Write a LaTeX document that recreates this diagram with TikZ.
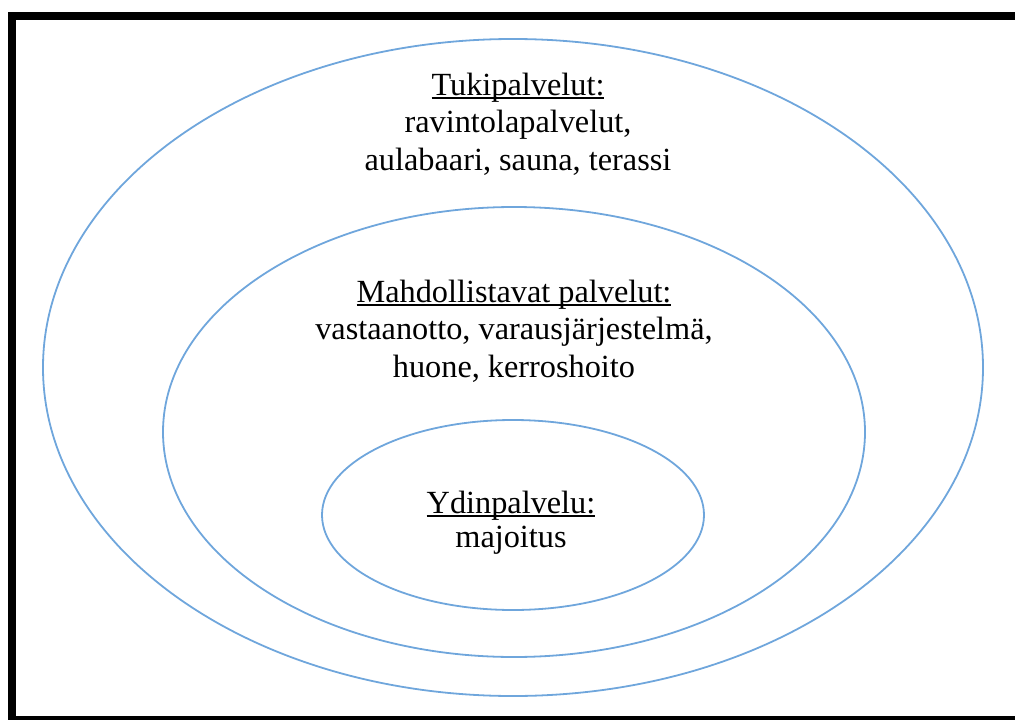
\documentclass[tikz,border=0pt]{standalone}
\usepackage{fontspec}
\setmainfont{Liberation Serif}
\definecolor{ringblue}{HTML}{6FA6DC}
\newsavebox\ulbox
\newcommand\myul[1]{\sbox\ulbox{#1}\rlap{\rule[-3.5pt]{\wd\ulbox}{1.6pt}}\usebox\ulbox}
\begin{document}
\begin{tikzpicture}[x=1pt,y=-1pt,
  ring/.style={draw=ringblue,line width=1.8pt},
  label/.style={anchor=base,inner sep=0pt,font=\fontsize{32.3pt}{37.5pt}\selectfont}]
\useasboundingbox (0,0) rectangle (1015,720);
\clip (0,0) rectangle (1015,720);
\draw[line width=8pt] (12,16) rectangle (1040,720);
\draw[ring] (513,367.5) ellipse [x radius=470, y radius=328.5];
\draw[ring] (514,432) ellipse [x radius=351, y radius=225];
\draw[ring] (513,515) ellipse [x radius=191, y radius=95];
\node[label] (tuki) at (518,95) {\setlength\tabcolsep{0pt}\renewcommand\arraystretch{1}%
  \begin{tabular}[t]{c}\myul{Tukipalvelut:}\\ ravintolapalvelut,\\ aulabaari, sauna, terassi\end{tabular}};
\node[label] (mahd) at (514,302) {\setlength\tabcolsep{0pt}\renewcommand\arraystretch{1}%
  \begin{tabular}[t]{c}\myul{Mahdollistavat palvelut:}\\ vastaanotto, varausjärjestelmä,\\ huone, kerroshoito\end{tabular}};
\node[label,font=\fontsize{32.3pt}{34.5pt}\selectfont] (ydin) at (511,513) {\setlength\tabcolsep{0pt}\renewcommand\arraystretch{1}%
  \begin{tabular}[t]{c}\myul{Ydinpalvelu:}\\ majoitus\end{tabular}};
\end{tikzpicture}
\end{document}
